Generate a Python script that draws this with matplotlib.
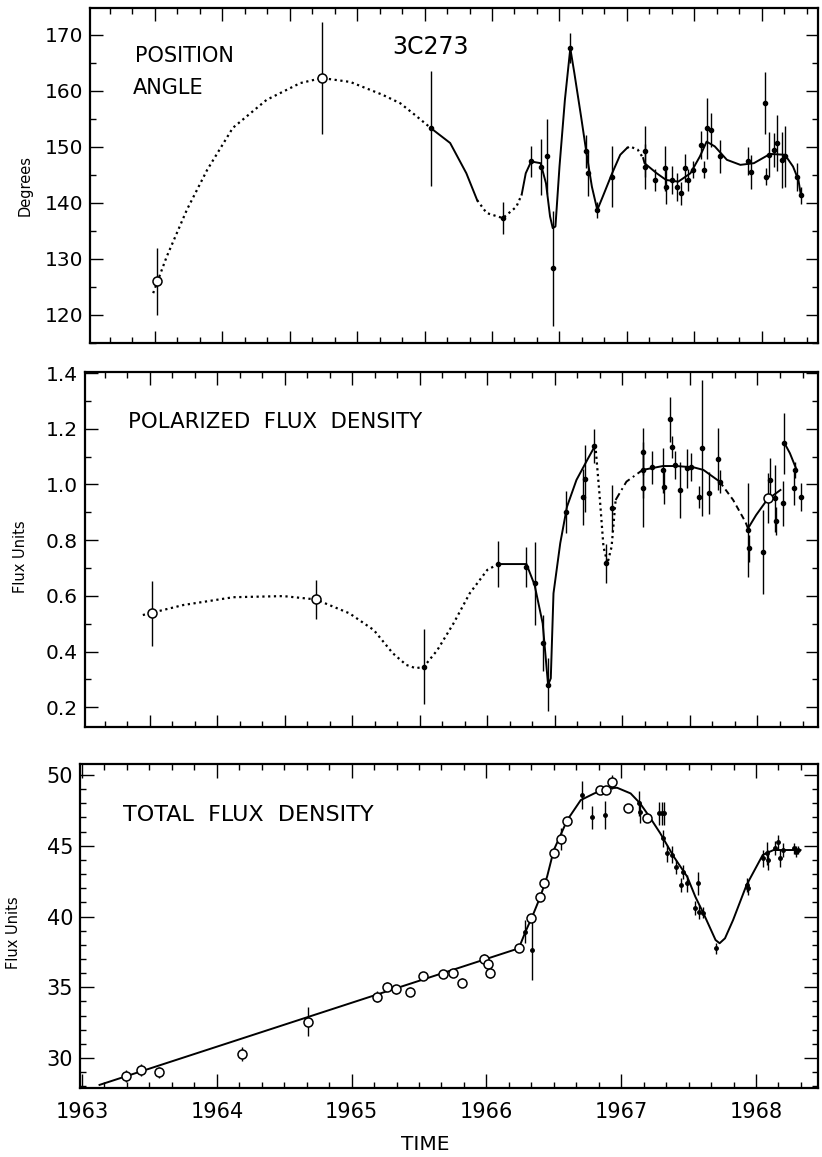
import matplotlib
matplotlib.use("Agg")
import matplotlib.pyplot as plt
from matplotlib.ticker import MultipleLocator, FixedLocator

# ---------------- DATA ----------------
# Position angle panel
pa_open_x = [1963.516, 1964.743]
pa_open_y = [126.0, 162.3]
pa_open_err = [6.0, 10.0]

pa_pts_x = [1965.55, 1966.08, 1966.29, 1966.36, 1966.405, 1966.45, 1966.58, 1966.70, 1966.71,
            1966.78, 1966.89, 1967.13, 1967.135, 1967.21, 1967.28, 1967.29, 1967.33, 1967.37,
            1967.40, 1967.43, 1967.45, 1967.49, 1967.55, 1967.57, 1967.59, 1967.62, 1967.69,
            1967.90, 1967.915, 1968.02, 1968.03, 1968.05, 1968.09, 1968.11, 1968.15, 1968.17,
            1968.26, 1968.29]
pa_pts_y = [153.3, 137.3, 147.4, 146.5, 148.3, 128.3, 167.6, 149.2, 145.3,
            138.75, 144.7, 149.2, 146.5, 144.1, 146.2, 142.9, 144.1, 142.9,
            141.7, 146.2, 144.1, 145.9, 150.4, 145.9, 153.3, 153.0, 148.3,
            147.5, 145.5, 157.8, 144.7, 148.6, 149.5, 150.7, 147.7, 148.3,
            144.7, 141.4]
pa_pts_err = [10.3, 2.9, 2.7, 5.0, 6.7, 10.3, 2.7, 3.0, 4.0,
              1.5, 5.5, 4.5, 4.0, 2.0, 4.0, 3.0, 2.5, 2.5,
              2.0, 2.5, 2.0, 1.5, 2.5, 1.5, 5.4, 3.0, 3.0,
              2.5, 3.0, 5.5, 1.5, 4.0, 3.0, 5.0, 5.0, 5.5,
              2.5, 1.5]

pa_dot1_x = [1963.49, 1963.59, 1963.74, 1963.89, 1964.08, 1964.33, 1964.58, 1964.74, 1964.95,
             1965.19, 1965.32, 1965.44, 1965.55]
pa_dot1_y = [123.9, 130.4, 138.8, 145.9, 153.4, 158.4, 161.4, 162.3, 161.6,
             159.3, 157.8, 155.5, 153.3]
pa_solid1_x = [1965.55, 1965.69, 1965.81, 1965.89]
pa_solid1_y = [153.3, 150.7, 145.3, 140.5]
pa_dot2_x = [1965.89, 1965.96, 1966.08, 1966.18, 1966.22]
pa_dot2_y = [140.5, 138.2, 137.3, 139.3, 141.5]
pa_solid2_x = [1966.22, 1966.25, 1966.29, 1966.36, 1966.40, 1966.43, 1966.45, 1966.47, 1966.50,
               1966.54, 1966.58, 1966.61, 1966.66, 1966.70, 1966.74, 1966.78, 1966.82, 1966.89,
               1966.95, 1967.00]
pa_solid2_y = [141.5, 145.3, 147.4, 147.1, 143.5, 137.6, 135.5, 135.8, 146.5,
               158.4, 167.6, 163.2, 155.4, 148.9, 142.9, 138.75, 141.1, 145.3,
               148.6, 149.8]
pa_dot3_x = [1967.00, 1967.02, 1967.08, 1967.12]
pa_dot3_y = [149.8, 150.1, 149.5, 148.0]
pa_solid3_x = [1967.12, 1967.13, 1967.22, 1967.29, 1967.38, 1967.47, 1967.54, 1967.59, 1967.65,
               1967.74, 1967.84, 1967.94, 1968.06, 1968.17, 1968.23, 1968.27, 1968.29]
pa_solid3_y = [148.0, 147.1, 145.3, 144.1, 143.8, 145.3, 148.3, 150.95, 150.1,
               147.7, 146.8, 147.1, 148.75, 148.6, 146.5, 144.1, 141.1]

pa_ticks = [120, 130, 140, 150, 160, 170]
pa_ticklabels = ["120", "130", "140", "150", "160", "170"]

# Polarized flux panel
pf_open_x = [1963.516, 1964.732, 1968.08]
pf_open_y = [0.537, 0.587, 0.950]
pf_open_err = [0.117, 0.07, 0.09]

pf_pts_x = [1965.53, 1966.08, 1966.29, 1966.35, 1966.41, 1966.45, 1966.58, 1966.71, 1966.72,
            1966.79, 1966.88, 1966.92, 1967.15, 1967.152, 1967.155, 1967.22, 1967.30, 1967.305,
            1967.35, 1967.37, 1967.39, 1967.43, 1967.48, 1967.51, 1967.57, 1967.59, 1967.64,
            1967.71, 1967.72, 1967.93, 1967.935, 1968.04, 1968.09, 1968.13, 1968.14, 1968.19,
            1968.20, 1968.27, 1968.28, 1968.32]
pf_pts_y = [0.345, 0.714, 0.705, 0.645, 0.43, 0.280, 0.902, 0.956, 1.02,
            1.138, 0.717, 0.914, 1.117, 1.052, 0.986, 1.061, 1.05, 0.99,
            1.234, 1.135, 1.070, 0.980, 1.058, 1.061, 0.956, 1.130, 0.968,
            1.091, 1.01, 0.836, 0.77, 0.758, 1.016, 0.95, 0.87, 0.932,
            1.148, 0.986, 1.052, 0.954]
pf_pts_err = [0.135, 0.084, 0.072, 0.15, 0.10, 0.095, 0.075, 0.10, 0.12,
              0.06, 0.07, 0.085, 0.085, 0.10, 0.14, 0.06, 0.08, 0.06,
              0.08, 0.04, 0.05, 0.10, 0.07, 0.05, 0.04, 0.245, 0.075,
              0.11, 0.04, 0.17, 0.05, 0.15, 0.08, 0.12, 0.05, 0.08,
              0.11, 0.06, 0.03, 0.05]

pf_dot1_x = [1963.45, 1963.75, 1964.12, 1964.49, 1964.73, 1964.98, 1965.16, 1965.30, 1965.40,
             1965.47, 1965.53, 1965.63, 1965.75, 1965.87, 1966.00, 1966.08]
pf_dot1_y = [0.531, 0.567, 0.595, 0.599, 0.587, 0.537, 0.477, 0.394, 0.352,
             0.340, 0.345, 0.405, 0.501, 0.609, 0.693, 0.714]
pf_solid1_x = [1966.08, 1966.29, 1966.35, 1966.41, 1966.45, 1966.47, 1966.49, 1966.54, 1966.59,
               1966.66, 1966.74, 1966.80]
pf_solid1_y = [0.714, 0.714, 0.639, 0.501, 0.280, 0.304, 0.609, 0.789, 0.920,
               1.016, 1.088, 1.141]
pf_dot2_x = [1966.80, 1966.83, 1966.86, 1966.89, 1966.92, 1966.95]
pf_dot2_y = [1.141, 0.968, 0.776, 0.717, 0.776, 0.944]
pf_dashdot_x = [1966.95, 1967.03, 1967.15]
pf_dashdot_y = [0.944, 1.010, 1.052]
pf_solid2_x = [1967.15, 1967.30, 1967.40, 1967.53, 1967.60, 1967.72]
pf_solid2_y = [1.052, 1.066, 1.066, 1.061, 1.052, 1.010]
pf_dash_x = [1967.72, 1967.82, 1967.91, 1967.93]
pf_dash_y = [1.010, 0.944, 0.866, 0.842]
pf_solid3_x = [1967.93, 1967.99, 1968.07, 1968.17]
pf_solid3_y = [0.842, 0.890, 0.944, 0.980]
pf_solid4_x = [1968.20, 1968.24, 1968.29]
pf_solid4_y = [1.148, 1.112, 1.052]

pf_ticks = [0.2, 0.4, 0.6, 0.8, 1.0, 1.2, 1.4]
pf_ticklabels = ["0.2", "0.4", "0.6", "0.8", "1.0", "1.2", "1.4"]

# Total flux panel
tf_open_x = [1963.326, 1963.438, 1963.573, 1964.19, 1964.68, 1965.19, 1965.26, 1965.33, 1965.43,
             1965.53, 1965.68, 1965.75, 1965.82, 1965.98, 1966.01, 1966.03, 1966.24, 1966.33,
             1966.40, 1966.43, 1966.50, 1966.55, 1966.60, 1966.84, 1966.89, 1966.93, 1967.05,
             1967.19]
tf_open_y = [28.73, 29.15, 28.99, 30.28, 32.57, 34.33, 35.04, 34.85, 34.69,
             35.80, 35.94, 36.03, 35.32, 36.97, 36.64, 36.03, 37.75, 39.87,
             41.36, 42.39, 44.47, 45.48, 46.77, 48.94, 48.94, 49.53, 47.65,
             46.98]
tf_open_err = [0.4, 0.4, 0.4, 0.5, 1.0, 0.4, 0.3, 0.3, 0.3,
               0.3, 0.2, 0.2, 0.3, 0.4, 0.3, 0.4, 0.2, 0.2,
               0.2, 0.2, 0.2, 0.8, 0.2, 0.2, 0.2, 0.5, 0.2,
               0.3]

tf_pts_x = [1966.29, 1966.34, 1966.71, 1966.78, 1966.88, 1967.13, 1967.14, 1967.28, 1967.30,
            1967.32, 1967.31, 1967.34, 1967.38, 1967.41, 1967.44, 1967.46, 1967.49, 1967.55,
            1967.57, 1967.58, 1967.61, 1967.70, 1967.93, 1967.94, 1968.05, 1968.08, 1968.09,
            1968.14, 1968.16, 1968.18, 1968.20, 1968.28, 1968.30, 1968.31]
tf_pts_y = [38.93, 37.6, 48.59, 47.0, 47.17, 48.0, 47.4, 47.3, 47.3,
            47.3, 45.53, 44.47, 44.35, 43.52, 42.23, 43.17, 42.35, 40.58,
            42.35, 40.34, 40.27, 37.75, 42.23, 41.99, 44.11, 44.47, 44.0,
            44.82, 45.29, 44.11, 44.70, 44.82, 44.58, 44.70]
tf_pts_err = [0.8, 2.1, 1.0, 0.8, 1.0, 0.9, 0.8, 0.8, 0.8,
              0.8, 0.6, 0.6, 0.6, 0.5, 0.5, 0.5, 0.6, 0.5,
              0.8, 0.5, 0.4, 0.4, 0.5, 0.5, 0.6, 0.8, 0.7,
              0.5, 0.5, 0.6, 0.5, 0.4, 0.4, 0.3]

tf_curve_x = [1963.13, 1966.24, 1966.29, 1966.34, 1966.40, 1966.45, 1966.50, 1966.55, 1966.60,
              1966.70, 1966.80, 1966.89, 1966.97, 1967.07, 1967.14, 1967.21, 1967.29, 1967.39,
              1967.49, 1967.55, 1967.61, 1967.70, 1967.73, 1967.77, 1967.83, 1967.93, 1968.05,
              1968.13, 1968.33]
tf_curve_y = [28.1, 37.75, 38.93, 39.99, 41.40, 42.81, 44.70, 45.76, 46.82,
              48.23, 48.70, 49.06, 49.10, 48.70, 48.0, 47.05, 45.88, 44.23,
              42.81, 41.40, 40.23, 38.34, 38.11, 38.46, 39.75, 42.23, 44.35,
              44.70, 44.70]

tf_ticks = [30, 35, 40, 45, 50]
tf_ticklabels = ["30", "35", "40", "45", "50"]

year_ticks = [1963, 1964, 1965, 1966, 1967, 1968]
year_labels = ["1963", "1964", "1965", "1966", "1967", "1968"]

# ---------------- FIGURE ----------------
plt.rcParams['font.family'] = ['DejaVu Sans']
W, H = 822, 1157
fig = plt.figure(figsize=(W / 100, H / 100), dpi=100)


def rect(l, r, t, b):
    return [l / W, 1 - b / H, (r - l) / W, (b - t) / H]


ax1 = fig.add_axes(rect(90, 818, 8, 343))
ax2 = fig.add_axes(rect(85, 818, 372, 727))
ax3 = fig.add_axes(rect(80, 818, 764, 1088))

DOT = (0, (1.0, 1.6))
DASH = (0, (3.0, 2.0))
DASHDOT = (0, (4.0, 2.0, 1.0, 2.0))
LW = 1.4


def style(ax, xlim, ylim, yticks, ylabels, ymin, ylsize):
    ax.set_xlim(*xlim)
    ax.set_ylim(*ylim)
    ax.xaxis.set_major_locator(MultipleLocator(0.5))
    ax.xaxis.set_minor_locator(MultipleLocator(1 / 6))
    ax.yaxis.set_major_locator(FixedLocator(yticks))
    ax.set_yticklabels(ylabels)
    ax.yaxis.set_minor_locator(MultipleLocator(ymin))
    ax.tick_params(which='both', direction='in', top=True, right=True, width=1.0, color='black')
    ax.tick_params(which='major', length=9)
    ax.tick_params(which='minor', length=4.5)
    ax.tick_params(axis='y', labelsize=ylsize, pad=5)
    for s in ax.spines.values():
        s.set_linewidth(1.6)
        s.set_color('black')


def errpts(ax, x, y, e, ms=3.0):
    ax.errorbar(x, y, yerr=e, fmt='o', color='black', ms=ms, elinewidth=1.0, capsize=0, zorder=3)


def openpts(ax, x, y, e):
    ax.errorbar(x, y, yerr=e, fmt='o', mfc='white', mec='black', ecolor='black', ms=6.5, mew=1.1,
                elinewidth=1.0, capsize=0, zorder=4)


# ---- Top: position angle ----
style(ax1, (1963.022, 1968.415), (115.0, 174.8), pa_ticks, pa_ticklabels, 5, 14.5)
ax1.tick_params(axis='x', labelbottom=False)
ax1.plot(pa_dot1_x, pa_dot1_y, color='black', lw=1.6, ls=DOT)
ax1.plot(pa_solid1_x, pa_solid1_y, color='black', lw=LW)
ax1.plot(pa_dot2_x, pa_dot2_y, color='black', lw=1.6, ls=DOT)
ax1.plot(pa_solid2_x, pa_solid2_y, color='black', lw=LW)
ax1.plot(pa_dot3_x, pa_dot3_y, color='black', lw=1.6, ls=DOT)
ax1.plot(pa_solid3_x, pa_solid3_y, color='black', lw=LW)
errpts(ax1, pa_pts_x, pa_pts_y, pa_pts_err)
openpts(ax1, pa_open_x, pa_open_y, pa_open_err)
ax1.set_ylabel("Degrees", fontsize=10.5)
ax1.yaxis.set_label_coords((33 - 90) / 728, (343 - 185) / 335)
ax1.text((135 - 90) / 728, (343 - 56.5) / 335, "POSITION", transform=ax1.transAxes,
         fontsize=15, va='center', ha='left')
ax1.text((133 - 90) / 728, (343 - 88) / 335, "ANGLE", transform=ax1.transAxes,
         fontsize=15, va='center', ha='left')
ax1.text((430 - 90) / 728, (343 - 46.5) / 335, "3C273", transform=ax1.transAxes,
         fontsize=17, va='center', ha='center')

# ---- Middle: polarized flux ----
style(ax2, (1963.022, 1968.448), (0.129, 1.4036), pf_ticks, pf_ticklabels, 0.1, 14.5)
ax2.tick_params(axis='x', labelbottom=False)
ax2.plot(pf_dot1_x, pf_dot1_y, color='black', lw=1.6, ls=DOT)
ax2.plot(pf_solid1_x, pf_solid1_y, color='black', lw=LW)
ax2.plot(pf_dot2_x, pf_dot2_y, color='black', lw=1.6, ls=DOT)
ax2.plot(pf_dashdot_x, pf_dashdot_y, color='black', lw=LW, ls=DASHDOT)
ax2.plot(pf_solid2_x, pf_solid2_y, color='black', lw=LW)
ax2.plot(pf_dash_x, pf_dash_y, color='black', lw=LW, ls=DASH)
ax2.plot(pf_solid3_x, pf_solid3_y, color='black', lw=LW)
ax2.plot(pf_solid4_x, pf_solid4_y, color='black', lw=LW)
errpts(ax2, pf_pts_x, pf_pts_y, pf_pts_err)
openpts(ax2, pf_open_x, pf_open_y, pf_open_err)
ax2.set_ylabel("Flux Units", fontsize=10.5)
ax2.yaxis.set_label_coords((28 - 85) / 733, (727 - 557) / 355)
ax2.text((128 - 85) / 733, (727 - 422) / 355, "POLARIZED  FLUX  DENSITY", transform=ax2.transAxes,
         fontsize=15.3, va='center', ha='left')

# ---- Bottom: total flux ----
style(ax3, (1962.985, 1968.46), (27.88, 50.78), tf_ticks, tf_ticklabels, 1, 15)
ax3.xaxis.set_major_locator(FixedLocator(year_ticks))
ax3.set_xticklabels(year_labels)
ax3.xaxis.set_minor_locator(MultipleLocator(1 / 6))
ax3.tick_params(axis='x', labelsize=15, pad=10)
ax3.tick_params(which='major', length=10)
ax3.plot(tf_curve_x, tf_curve_y, color='black', lw=LW)
errpts(ax3, tf_pts_x, tf_pts_y, tf_pts_err, ms=2.5)
openpts(ax3, tf_open_x, tf_open_y, tf_open_err)
ax3.set_ylabel("Flux Units", fontsize=10.5)
ax3.yaxis.set_label_coords((21 - 80) / 738, (1088 - 933) / 324)
ax3.text((123 - 80) / 738, (1088 - 815) / 324, "TOTAL  FLUX  DENSITY", transform=ax3.transAxes,
         fontsize=16, va='center', ha='left')
fig.text(425 / W, 1 - 1145 / H, "TIME", fontsize=14.5, ha='center', va='center')

fig.savefig("out.png", dpi=100)
